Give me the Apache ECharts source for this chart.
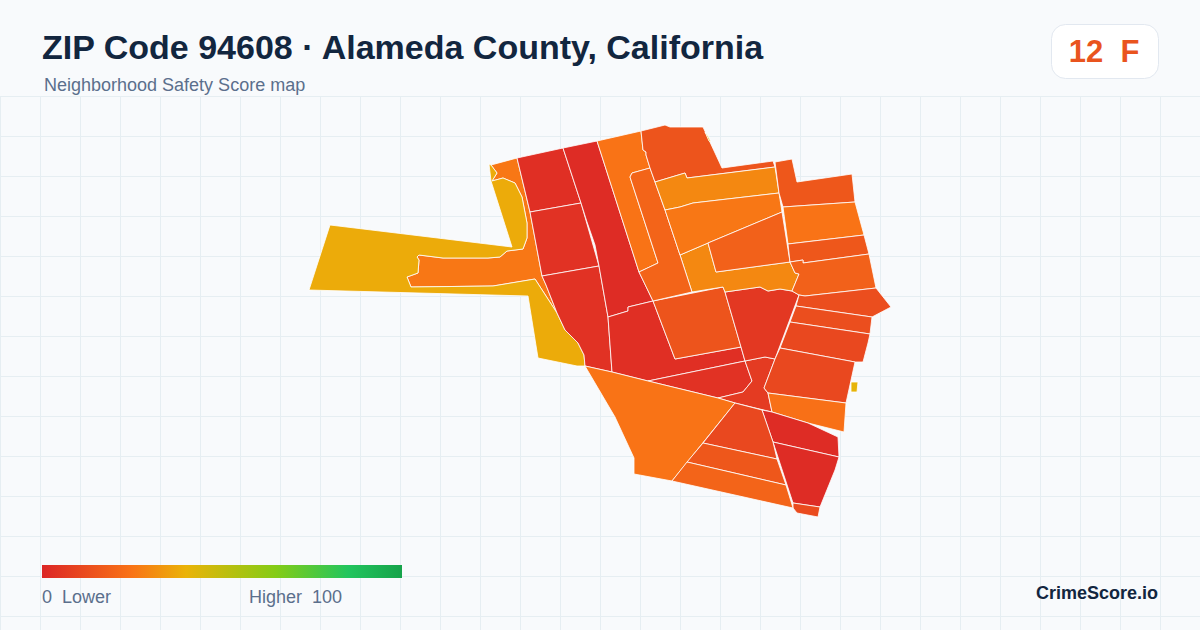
<!DOCTYPE html>
<html>
<head>
<meta charset="utf-8">
<title>ZIP Code 94608</title>
<script src="https://cdn.jsdelivr.net/npm/echarts@6/dist/echarts.min.js"></script>
<style>
html,body{margin:0;padding:0;background:#f8fafc;}
#main{width:1200px;height:630px;}
</style>
</head>
<body>
<div id="main"></div>
<script>
var titleText = 'ZIP Code 94608 · Alameda County, California';
var subtitleText = 'Neighborhood Safety Score map';
var overallScore = 12;
var overallGrade = 'F';
var scoreMin = 0;
var scoreMax = 100;

var tractNames = ['a01','a02','a03','a04','a05','a06','a07','a08','a09','a10','a11','a12','a13','a14','a15','a16','a17','a18','a19','a20','a21','a22','a23','a24','a25','a26','a27','a28','a29','a30','a31','a32','a33','a34','a35','a36'];
var tractScores = [26,38,3,4,4,2,3,15,4,7,6,30,25,20,15,30,26,19,16,25,16,19,13,13,11,11,24,2,2,12,25,11,16,20,41,41];

// traced boundaries, one ring per tract, same order as tractNames
var tractRings = [
 [[491,165],[517,158],[530,212],[542,276],[546,285],[557,313],[535,279],[493,286],[411,287],[407,277],[418,273],[419,260],[417,257],[419,255],[443,258],[488,258],[500,257],[507,251],[523,249],[527,238],[527,223],[522,197],[515,183],[503,178],[492,181],[497,173]],
 [[330,225],[512,247],[491,181],[489,164],[491,165],[497,173],[492,181],[503,178],[515,183],[522,197],[527,223],[527,238],[523,249],[507,251],[500,257],[488,258],[443,258],[419,255],[417,257],[419,260],[418,273],[407,277],[411,287],[493,286],[535,279],[557,313],[565,330],[578,343],[584,355],[585,366],[577,366],[538,358],[528,296],[309,290]],
 [[517,158],[563,148],[581,203],[530,212]],
 [[530,212],[581,203],[599,266],[542,276]],
 [[542,276],[599,266],[608,317],[612,372],[585,366],[584,355],[578,343],[565,330],[557,313],[546,285]],
 [[563,148],[597,141],[639,272],[653,301],[628,307],[628,311],[608,317],[599,266],[595,245],[587,222],[581,203]],
 [[608,317],[628,311],[628,307],[653,301],[675,359],[741,347],[745,361],[648,381],[612,372]],
 [[653,301],[723,287],[725,292],[741,347],[675,359]],
 [[648,381],[745,361],[752,381],[743,392],[718,398]],
 [[745,361],[765,357],[775,359],[764,388],[768,393],[772,412],[735,403],[718,398],[743,392],[752,381]],
 [[725,292],[760,287],[768,291],[780,289],[792,291],[799,295],[775,359],[765,357],[745,361],[741,347]],
 [[680,255],[708,243],[716,272],[790,262],[795,273],[799,274],[792,291],[780,289],[768,291],[760,287],[725,292],[723,287],[692,292]],
 [[597,141],[641,131],[643,150],[646,152],[646,155],[650,168],[632,173],[630,177],[658,263],[639,272]],
 [[632,173],[650,168],[655,182],[665,210],[680,255],[692,292],[653,301],[639,272],[658,263],[630,177]],
 [[641,131],[665,125],[670,127],[703,127],[722,168],[773,161],[775,167],[687,178],[685,173],[655,182],[650,168],[646,155],[646,152],[643,150]],
 [[655,182],[685,173],[687,178],[775,167],[779,193],[693,203],[680,207],[665,210]],
 [[665,210],[680,207],[693,203],[779,193],[782,212],[708,243],[680,255]],
 [[708,243],[782,212],[790,262],[716,272]],
 [[775,162],[792,159],[797,182],[852,174],[855,202],[783,207],[779,193]],
 [[783,207],[855,202],[864,235],[788,244]],
 [[788,244],[864,235],[869,254],[803,263],[803,260],[790,262]],
 [[790,262],[803,260],[803,263],[869,254],[876,288],[805,296],[799,295],[792,291],[799,274],[795,273]],
 [[805,296],[876,288],[891,307],[872,317],[796,306],[799,295]],
 [[796,306],[872,317],[870,334],[790,322]],
 [[790,322],[870,334],[868,343],[863,362],[855,362],[780,348]],
 [[780,348],[855,362],[846,403],[768,393],[764,388],[775,359]],
 [[768,393],[846,403],[844,432],[808,423],[772,412]],
 [[762,410],[772,412],[808,423],[838,437],[839,457],[773,442]],
 [[773,442],[839,457],[835,470],[820,507],[793,503]],
 [[793,503],[820,507],[818,517],[797,513],[793,508]],
 [[585,366],[612,372],[648,381],[718,398],[735,403],[672,481],[634,474],[634,458],[615,417]],
 [[735,403],[762,410],[773,442],[777,459],[703,443]],
 [[703,443],[777,459],[786,485],[687,462]],
 [[687,462],[786,485],[793,508],[672,481]],
 [[851,382],[858,382],[857,392],[851,392]],
 [[705,132],[708,136],[711,142],[709,141]]
];

var legendStops = [[0,'#dc2626'],[0.25,'#f97316'],[0.4,'#eab308'],[0.65,'#84cc16'],[0.85,'#22c55e'],[1,'#16a34a']];

// 5% steps so visualMap gets the uneven stops right
function rampColors() {
    var out = [];
    for (var i = 0; i <= 20; i++) {
        var t = i / 20;
        for (var k = 0; k < legendStops.length - 1; k++) {
            var a = legendStops[k], b = legendStops[k + 1];
            if (t <= b[0] + 1e-9) {
                out.push(echarts.color.lerp((t - a[0]) / (b[0] - a[0]), [a[1], b[1]]));
                break;
            }
        }
    }
    return out;
}

var features = [];
var mapData = [];
var minX = 1e9, minY = 1e9, maxX = -1e9, maxY = -1e9;
for (var i = 0; i < tractNames.length; i++) {
    var ring = tractRings[i];
    features.push({
        type: 'Feature',
        properties: { name: tractNames[i] },
        geometry: { type: 'Polygon', coordinates: [ring.concat([ring[0]])] }
    });
    mapData.push({ name: tractNames[i], value: tractScores[i] });
    for (var j = 0; j < ring.length; j++) {
        minX = Math.min(minX, ring[j][0]);
        maxX = Math.max(maxX, ring[j][0]);
        minY = Math.min(minY, ring[j][1]);
        maxY = Math.max(maxY, ring[j][1]);
    }
}
echarts.registerMap('zip94608', { type: 'FeatureCollection', features: features });

// background grid
var graphics = [];
var gridColor = '#e6eef2';
for (var x = 0.5; x < 1200; x += 40) {
    graphics.push({ type: 'line', z: 0, silent: true, shape: { x1: x, y1: 97, x2: x, y2: 630 }, style: { stroke: gridColor, lineWidth: 1 } });
}
for (var y = 96.5; y < 630; y += 40) {
    graphics.push({ type: 'line', z: 0, silent: true, shape: { x1: 0, y1: y, x2: 1200, y2: y }, style: { stroke: gridColor, lineWidth: 1 } });
}
function label(text, x, y, size, weight, color, align) {
    graphics.push({
        type: 'text', z: 5, silent: true, x: x, y: y,
        style: { text: text, font: weight + ' ' + size + 'px "Liberation Sans", Arial, sans-serif', fill: color, textAlign: align || 'left', textVerticalAlign: 'middle' }
    });
}
label(titleText, 42, 46.5, 34, 'bold', '#12263f');
label(subtitleText, 44, 85, 18, 'normal', '#5b6f8c');
graphics.push({ type: 'rect', z: 4, silent: true, shape: { x: 1051.5, y: 24.5, width: 107, height: 54, r: 14 }, style: { fill: '#ffffff', stroke: '#e2e8f0', lineWidth: 1 } });
label(overallScore + '  ' + overallGrade, 1104, 51, 31, 'bold', '#e9541e', 'center');
label(scoreMin + '  Lower', 42, 597, 18, 'normal', '#5b6f8c');
label('Higher  ' + scoreMax, 249, 597, 18, 'normal', '#5b6f8c');
label('CrimeScore.io', 1158, 593, 18, 'bold', '#12263f', 'right');

// legend bar, square ends (visualMap's own bar is rounded)
var barStops = [];
for (var s = 0; s < legendStops.length; s++) {
    barStops.push({ offset: legendStops[s][0], color: legendStops[s][1] });
}
graphics.push({
    type: 'rect', z: 4, silent: true,
    shape: { x: 42, y: 565, width: 360, height: 13 },
    style: { fill: new echarts.graphic.LinearGradient(0, 0, 1, 0, barStops) }
});

var myChart = echarts.init(document.getElementById('main'), null, { renderer: 'svg' });
var option = {
    animation: false,
    backgroundColor: '#f8fafc',
    graphic: { elements: graphics },
    visualMap: {
        type: 'continuous',
        show: false,
        min: scoreMin,
        max: scoreMax,
        inRange: { color: rampColors() }
    },
    series: [
        {
            type: 'map',
            map: 'zip94608',
            projection: {
                project: function (p) { return p; },
                unproject: function (p) { return p; }
            },
            left: minX,
            top: minY,
            width: maxX - minX,
            height: maxY - minY,
            roam: false,
            silent: true,
            selectedMode: false,
            label: { show: false },
            itemStyle: { borderColor: '#ffffff', borderWidth: 0.8 },
            emphasis: { disabled: true },
            data: mapData
        }
    ]
};
myChart.setOption(option);
</script>
</body>
</html>
